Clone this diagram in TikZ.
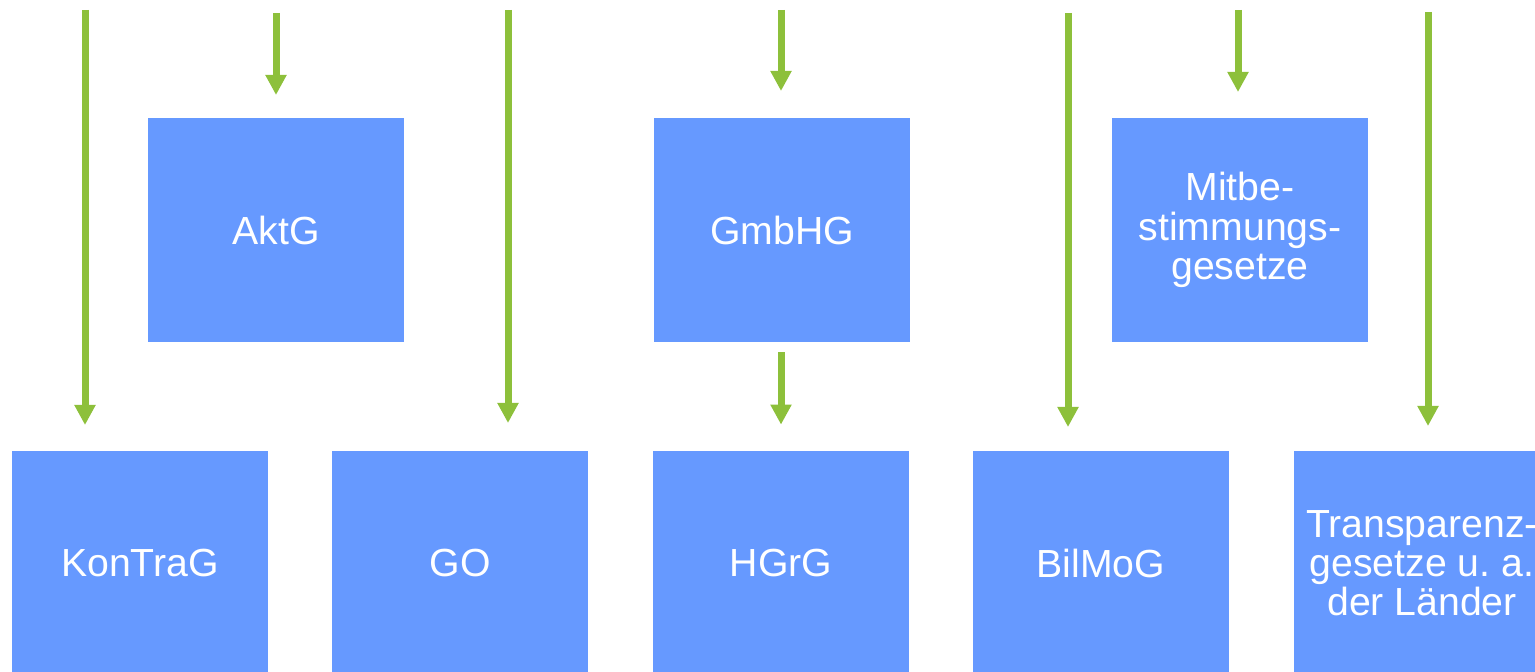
\documentclass[tikz,border=0pt]{standalone}
\usepackage{fontspec}
\setmainfont{Liberation Sans}
\usetikzlibrary{arrows.meta}
\definecolor{boxblue}{HTML}{6699FF}
\definecolor{arrgreen}{HTML}{8DC03B}
\tikzset{
  law/.style={rectangle, fill=boxblue, draw=none, minimum width=128pt, minimum height=112pt,
    inner sep=0pt, text=white, align=center, font=\fontsize{19.6}{19.6}\selectfont},
  flow/.style={draw=arrgreen, line width=3.5pt, -{Triangle[width=10pt,length=10pt]}}
}
\begin{document}
\begin{tikzpicture}[x=0.5pt,y=-0.5pt]
\useasboundingbox (0,0) rectangle (1535,672);
\begin{scope}
\clip (0,0) rectangle (1535,672);
% top row
\node[law] (aktg) at (276,230) {AktG};
\node[law] (gmbhg) at (782,230) {GmbHG};
\node[law] (mitbest) at (1240,230) {Mitbe-\\stimmungs-\\gesetze};
% bottom row
\node[law] (kontrag) at (140,563) {KonTraG};
\node[law] (go) at (460,563) {GO};
\node[law] (hgrg) at (781,563) {HGrG};
\node[law] (bilmog) at (1101,563) {BilMoG};
\node[law] (transp) at (1422,563) {Transparenz-\\gesetze u.\ a.\\der Länder};
\end{scope}
% arrow end points
\coordinate (s1) at (85,10);   \coordinate (e1) at (85,425);
\coordinate (s2) at (276,13);  \coordinate (e2) at (276,95);
\coordinate (s3) at (508,10);  \coordinate (e3) at (508,423);
\coordinate (s4) at (781,10);  \coordinate (e4) at (781,91);
\coordinate (s6) at (1068,13); \coordinate (e6) at (1068,427);
\coordinate (s7) at (1238,10); \coordinate (e7) at (1238,92);
\coordinate (s8) at (1428,12); \coordinate (e8) at (1428,426);
\draw[flow] (s1) -- (e1);
\draw[flow] (s2) -- (e2);
\draw[flow] (s3) -- (e3);
\draw[flow] (s4) -- (e4);
\draw[flow, shorten <=5pt, shorten >=13pt] (gmbhg.south -| hgrg.north) -- (hgrg.north);
\draw[flow] (s6) -- (e6);
\draw[flow] (s7) -- (e7);
\draw[flow] (s8) -- (e8);
\end{tikzpicture}
\end{document}
